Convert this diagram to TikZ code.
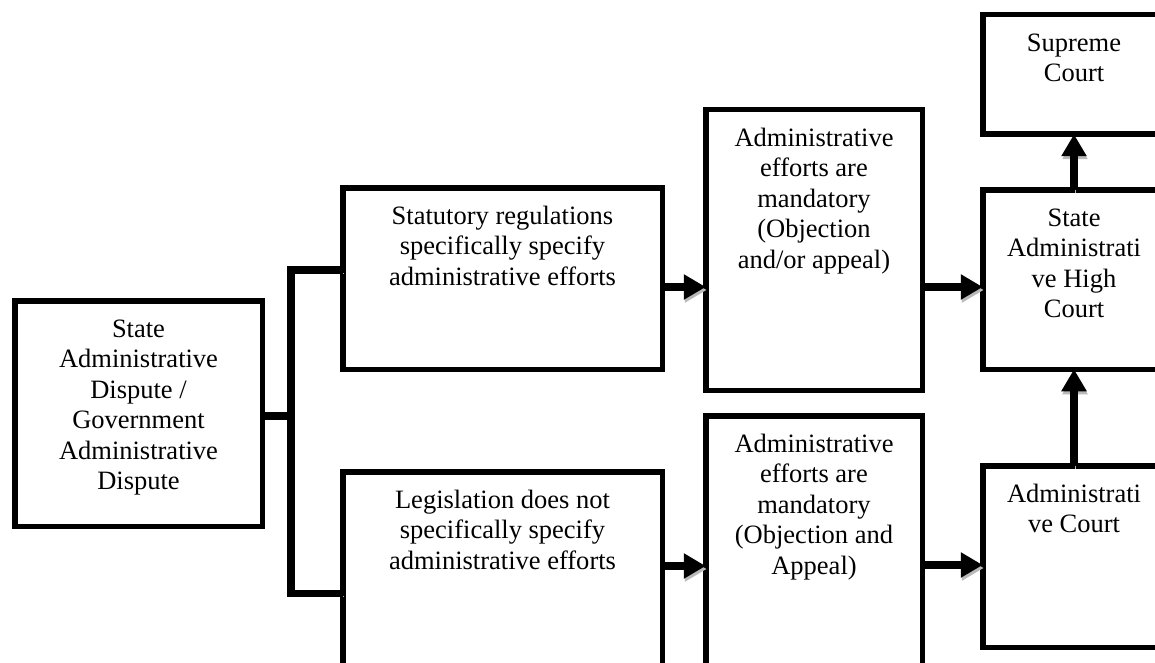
\documentclass[tikz,border=0pt]{standalone}
\usepackage{fontspec}
\setmainfont{Liberation Serif}
\usetikzlibrary{arrows.meta,calc}
\newcommand\boxfont{\fontsize{26.5}{30.5}\selectfont}
\newcommand\bxtext[3]{\parbox[c][#2][t]{#1}{\centering\vspace*{15pt}\strut #3}}
\tikzset{
  box/.style={draw, line width=5.5pt, inner sep=0pt, outer sep=0pt, anchor=north west, font=\boxfont},
  conn/.style={line width=7.5pt, line join=miter, preaction={draw=gray!55, transform canvas={shift={(1pt,-3pt)}}}},
  arr/.style={conn, -{Triangle[length=22pt,width=24pt]}}
}
\begin{document}
\begin{tikzpicture}[x=1pt,y=-1pt]
\useasboundingbox (0,0) rectangle (1155,663);
\fill[white] (0,0) rectangle (1155,663);
\clip (0,0) rectangle (1155,663);

\node[box] (b1) at (14.75,300.75) {\bxtext{247.5pt}{225.5pt}{State\\Administrative\\Dispute /\\Government\\Administrative\\Dispute}};
\node[box] (b2) at (342.75,187.75) {\bxtext{319.5pt}{181.5pt}{Statutory regulations\\specifically specify\\administrative efforts}};
\node[box] (b3) at (342.75,471.75) {\bxtext{319.5pt}{240pt}{Legislation does not\\specifically specify\\administrative efforts}};
\node[box] (b4) at (705.75,109.75) {\bxtext{216.5pt}{280.5pt}{Administrative\\efforts are\\mandatory\\(Objection\\and/or appeal)}};
\node[box] (b5) at (705.75,415.75) {\bxtext{216.5pt}{280pt}{Administrative\\efforts are\\mandatory\\(Objection and\\Appeal)}};
\node[box] (b6) at (982.75,14.75) {\bxtext{182.5pt}{119.5pt}{Supreme\\Court}};
\node[box] (b7) at (982.75,189.75) {\bxtext{182.5pt}{179.5pt}{State\\Administrati\\ve High\\Court}};
\node[box] (b8) at (982.75,465.75) {\bxtext{182.5pt}{181.5pt}{Administrati\\ve Court}};

% elbow connector from the dispute box
\coordinate (j) at (291,416);
\draw[conn] (b1.east |- j) -- (j);
\draw[conn] ($(b2.west)+(0,-8.5)$) -| (j) |- ($(b3.north west)+(0,121.75)$);

% horizontal arrows
\draw[arr] ($(b2.east)+(0,8.5)$) coordinate (t1) -- (t1 -| b4.west);
\draw[arr] ($(b3.north east)+(0,94.25)$) coordinate (t2) -- (t2 -| b5.west);
\draw[arr] ($(b4.east)+(0,37)$) coordinate (t3) -- (t3 -| b7.west);
\draw[arr] ($(b5.north east)+(0,149.25)$) coordinate (t4) -- (t4 -| b8.west);

% vertical arrows
\draw[arr] (b7.north) -- (b6.south);
\draw[arr] (b8.north) -- (b7.south);
\end{tikzpicture}
\end{document}
